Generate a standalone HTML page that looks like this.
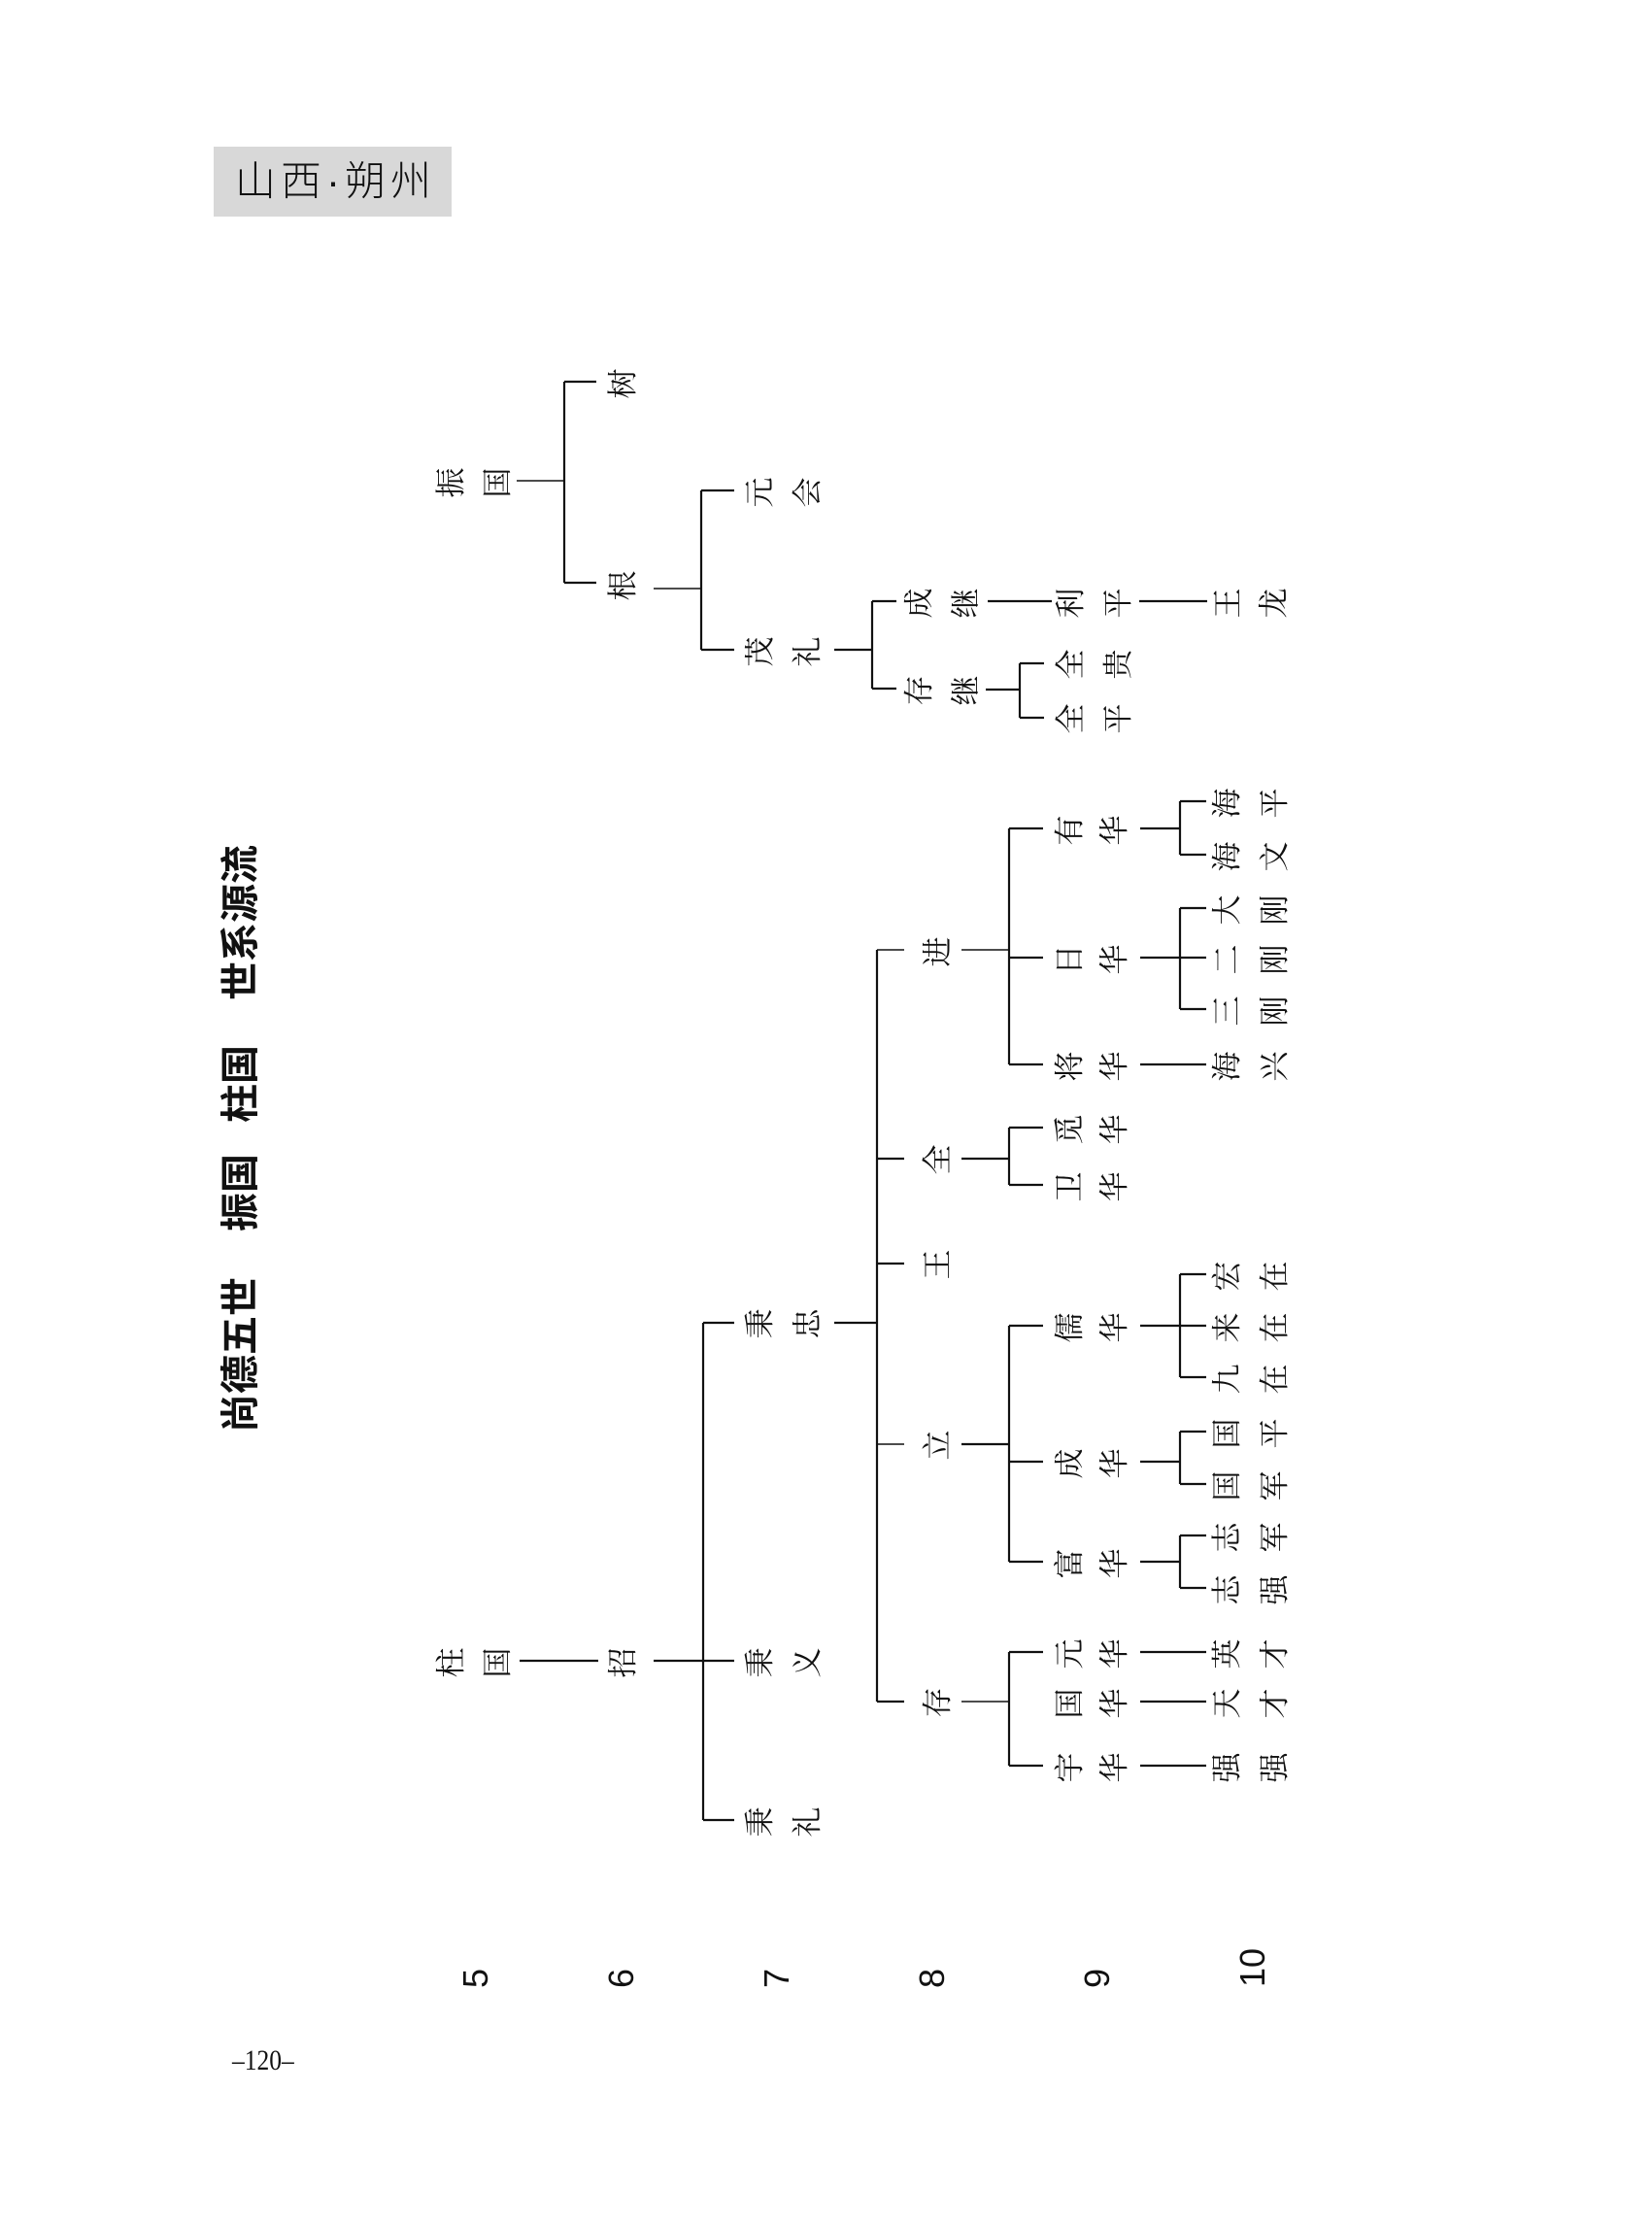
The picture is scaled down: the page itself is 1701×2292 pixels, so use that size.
<!DOCTYPE html>
<html><head><meta charset="utf-8">
<style>
html,body{margin:0;padding:0;background:#fff;}
#p{position:relative;width:1701px;height:2292px;overflow:hidden;background:#fff;}
.c{position:absolute;width:34px;height:34px;line-height:34px;margin-left:-17px;margin-top:-17px;text-align:center;font-size:31px;font-family:"Liberation Serif","Noto Serif CJK SC",serif;color:#111;transform:rotate(-90deg);}
.t{position:absolute;white-space:nowrap;font-family:"Liberation Sans","Noto Sans CJK SC",sans-serif;font-weight:bold;font-size:40px;color:#111;transform:translate(-50%,-50%) rotate(-90deg);line-height:40px;}
.n{position:absolute;font-family:"Liberation Sans",sans-serif;font-size:36px;color:#111;transform:translate(-50%,-50%) rotate(-90deg);line-height:36px;}
svg{position:absolute;left:0;top:0;}
</style></head><body><div id="p">
<div style="position:absolute;left:220px;top:151px;width:245px;height:72px;background:#d8d8d8;"></div>
<div style="position:absolute;left:242px;top:162px;width:215px;height:50px;line-height:50px;font-size:42px;letter-spacing:5px;font-family:'Liberation Sans','Noto Sans CJK SC',sans-serif;font-weight:300;color:#111;white-space:nowrap;">山西·朔州</div>

<div class="t" style="left:248px;top:1395px;">尚德五世</div>
<div class="t" style="left:248px;top:1228px;">振国</div>
<div class="t" style="left:248px;top:1116px;">柱国</div>
<div class="t" style="left:248px;top:950px;">世系源流</div>

<svg width="1701" height="2292" stroke="#111" stroke-width="2.2" fill="none">
<g stroke-width="1.4">
<line x1="532" y1="495" x2="581" y2="495"/>
<line x1="673" y1="606" x2="722" y2="606"/>
<line x1="990" y1="978" x2="1039" y2="978"/>
<line x1="990" y1="1752" x2="1039" y2="1752"/>
<line x1="903" y1="1487" x2="931" y2="1487"/>
<line x1="903" y1="978" x2="931" y2="978"/>
</g>
<line x1="581" y1="393" x2="581" y2="600"/>
<line x1="581" y1="393" x2="614" y2="393"/><line x1="581" y1="600" x2="614" y2="600"/>
<line x1="722" y1="505" x2="722" y2="669"/>
<line x1="722" y1="505" x2="756" y2="505"/><line x1="722" y1="669" x2="756" y2="669"/>
<line x1="859" y1="669" x2="898" y2="669"/>
<line x1="898" y1="619" x2="898" y2="709"/>
<line x1="898" y1="619" x2="923" y2="619"/><line x1="898" y1="709" x2="923" y2="709"/>
<line x1="1017" y1="619" x2="1083" y2="619"/>
<line x1="1173" y1="619" x2="1243" y2="619"/>
<line x1="1015" y1="710" x2="1050" y2="710"/>
<line x1="1050" y1="683" x2="1050" y2="739"/>
<line x1="1050" y1="683" x2="1075" y2="683"/><line x1="1050" y1="739" x2="1075" y2="739"/>

<line x1="535" y1="1710" x2="616" y2="1710"/>
<line x1="673" y1="1710" x2="756" y2="1710"/>
<line x1="724" y1="1362" x2="724" y2="1874"/>
<line x1="724" y1="1362" x2="756" y2="1362"/><line x1="724" y1="1874" x2="756" y2="1874"/>
<line x1="859" y1="1362" x2="903" y2="1362"/>
<line x1="903" y1="978" x2="903" y2="1752"/>
<line x1="903" y1="1193" x2="931" y2="1193"/>
<line x1="903" y1="1301" x2="931" y2="1301"/>
<line x1="903" y1="1752" x2="931" y2="1752"/>
<line x1="990" y1="1193" x2="1039" y2="1193"/>
<line x1="990" y1="1487" x2="1039" y2="1487"/>

<line x1="1039" y1="853" x2="1039" y2="1096"/>
<line x1="1039" y1="853" x2="1074" y2="853"/><line x1="1039" y1="986" x2="1074" y2="986"/><line x1="1039" y1="1096" x2="1074" y2="1096"/>
<line x1="1039" y1="1161" x2="1039" y2="1220"/>
<line x1="1039" y1="1161" x2="1074" y2="1161"/><line x1="1039" y1="1220" x2="1074" y2="1220"/>
<line x1="1039" y1="1365" x2="1039" y2="1608"/>
<line x1="1039" y1="1365" x2="1074" y2="1365"/><line x1="1039" y1="1505" x2="1074" y2="1505"/><line x1="1039" y1="1608" x2="1074" y2="1608"/>
<line x1="1039" y1="1701" x2="1039" y2="1818"/>
<line x1="1039" y1="1701" x2="1074" y2="1701"/><line x1="1039" y1="1818" x2="1074" y2="1818"/>

<line x1="1174" y1="853" x2="1215" y2="853"/>
<line x1="1215" y1="825" x2="1215" y2="880"/>
<line x1="1215" y1="825" x2="1242" y2="825"/><line x1="1215" y1="880" x2="1242" y2="880"/>
<line x1="1174" y1="986" x2="1215" y2="986"/>
<line x1="1215" y1="935" x2="1215" y2="1039"/>
<line x1="1215" y1="935" x2="1242" y2="935"/><line x1="1215" y1="986" x2="1242" y2="986"/><line x1="1215" y1="1039" x2="1242" y2="1039"/>
<line x1="1174" y1="1096" x2="1242" y2="1096"/>
<line x1="1174" y1="1365" x2="1215" y2="1365"/>
<line x1="1215" y1="1312" x2="1215" y2="1418"/>
<line x1="1215" y1="1312" x2="1242" y2="1312"/><line x1="1215" y1="1365" x2="1242" y2="1365"/><line x1="1215" y1="1418" x2="1242" y2="1418"/>
<line x1="1174" y1="1505" x2="1215" y2="1505"/>
<line x1="1215" y1="1474" x2="1215" y2="1528"/>
<line x1="1215" y1="1474" x2="1242" y2="1474"/><line x1="1215" y1="1528" x2="1242" y2="1528"/>
<line x1="1174" y1="1608" x2="1215" y2="1608"/>
<line x1="1215" y1="1581" x2="1215" y2="1635"/>
<line x1="1215" y1="1581" x2="1242" y2="1581"/><line x1="1215" y1="1635" x2="1242" y2="1635"/>
<line x1="1174" y1="1701" x2="1242" y2="1701"/>
<line x1="1174" y1="1752" x2="1242" y2="1752"/>
<line x1="1174" y1="1818" x2="1242" y2="1818"/>
</svg>

<!-- top tree -->
<div class="c" style="left:465px;top:497px">振</div><div class="c" style="left:513px;top:497px">国</div>
<div class="c" style="left:642px;top:395px">树</div>
<div class="c" style="left:642px;top:603px">根</div>
<div class="c" style="left:783px;top:507px">元</div><div class="c" style="left:832px;top:507px">会</div>
<div class="c" style="left:783px;top:671px">茂</div><div class="c" style="left:832px;top:671px">礼</div>
<div class="c" style="left:947px;top:621px">成</div><div class="c" style="left:995px;top:621px">继</div>
<div class="c" style="left:947px;top:711px">存</div><div class="c" style="left:995px;top:711px">继</div>
<div class="c" style="left:1103px;top:621px">利</div><div class="c" style="left:1152px;top:621px">平</div>
<div class="c" style="left:1265px;top:621px">王</div><div class="c" style="left:1312px;top:621px">龙</div>
<div class="c" style="left:1103px;top:684px">全</div><div class="c" style="left:1152px;top:684px">贵</div>
<div class="c" style="left:1103px;top:740px">全</div><div class="c" style="left:1152px;top:740px">平</div>

<!-- lower tree -->
<div class="c" style="left:465px;top:1712px">柱</div><div class="c" style="left:513px;top:1712px">国</div>
<div class="c" style="left:642px;top:1712px">招</div>
<div class="c" style="left:783px;top:1363px">秉</div><div class="c" style="left:832px;top:1363px">忠</div>
<div class="c" style="left:783px;top:1712px">秉</div><div class="c" style="left:832px;top:1712px">义</div>
<div class="c" style="left:783px;top:1876px">秉</div><div class="c" style="left:832px;top:1876px">礼</div>

<div class="c" style="left:966px;top:980px">进</div>
<div class="c" style="left:966px;top:1194px">全</div>
<div class="c" style="left:966px;top:1302px">王</div>
<div class="c" style="left:966px;top:1488px">立</div>
<div class="c" style="left:966px;top:1753px">存</div>

<div class="c" style="left:1102px;top:855px">有</div><div class="c" style="left:1148px;top:855px">华</div>
<div class="c" style="left:1102px;top:988px">日</div><div class="c" style="left:1148px;top:988px">华</div>
<div class="c" style="left:1102px;top:1098px">将</div><div class="c" style="left:1148px;top:1098px">华</div>
<div class="c" style="left:1102px;top:1163px">觅</div><div class="c" style="left:1148px;top:1163px">华</div>
<div class="c" style="left:1102px;top:1222px">卫</div><div class="c" style="left:1148px;top:1222px">华</div>
<div class="c" style="left:1102px;top:1367px">儒</div><div class="c" style="left:1148px;top:1367px">华</div>
<div class="c" style="left:1102px;top:1507px">成</div><div class="c" style="left:1148px;top:1507px">华</div>
<div class="c" style="left:1102px;top:1610px">富</div><div class="c" style="left:1148px;top:1610px">华</div>
<div class="c" style="left:1102px;top:1703px">元</div><div class="c" style="left:1148px;top:1703px">华</div>
<div class="c" style="left:1102px;top:1754px">国</div><div class="c" style="left:1148px;top:1754px">华</div>
<div class="c" style="left:1102px;top:1820px">宇</div><div class="c" style="left:1148px;top:1820px">华</div>

<div class="c" style="left:1264px;top:827px">海</div><div class="c" style="left:1313px;top:827px">平</div>
<div class="c" style="left:1264px;top:882px">海</div><div class="c" style="left:1313px;top:882px">文</div>
<div class="c" style="left:1264px;top:937px">大</div><div class="c" style="left:1313px;top:937px">刚</div>
<div class="c" style="left:1264px;top:988px">二</div><div class="c" style="left:1313px;top:988px">刚</div>
<div class="c" style="left:1264px;top:1041px">三</div><div class="c" style="left:1313px;top:1041px">刚</div>
<div class="c" style="left:1264px;top:1098px">海</div><div class="c" style="left:1313px;top:1098px">兴</div>
<div class="c" style="left:1264px;top:1314px">宏</div><div class="c" style="left:1313px;top:1314px">在</div>
<div class="c" style="left:1264px;top:1367px">来</div><div class="c" style="left:1313px;top:1367px">在</div>
<div class="c" style="left:1264px;top:1420px">九</div><div class="c" style="left:1313px;top:1420px">在</div>
<div class="c" style="left:1264px;top:1476px">国</div><div class="c" style="left:1313px;top:1476px">平</div>
<div class="c" style="left:1264px;top:1530px">国</div><div class="c" style="left:1313px;top:1530px">军</div>
<div class="c" style="left:1264px;top:1583px">志</div><div class="c" style="left:1313px;top:1583px">军</div>
<div class="c" style="left:1264px;top:1637px">志</div><div class="c" style="left:1313px;top:1637px">强</div>
<div class="c" style="left:1264px;top:1703px">英</div><div class="c" style="left:1313px;top:1703px">才</div>
<div class="c" style="left:1264px;top:1754px">天</div><div class="c" style="left:1313px;top:1754px">才</div>
<div class="c" style="left:1264px;top:1820px">强</div><div class="c" style="left:1313px;top:1820px">强</div>

<div class="n" style="left:490px;top:2037px">5</div>
<div class="n" style="left:640px;top:2037px">6</div>
<div class="n" style="left:800px;top:2037px">7</div>
<div class="n" style="left:960px;top:2037px">8</div>
<div class="n" style="left:1130px;top:2037px">9</div>
<div class="n" style="left:1290px;top:2026px">10</div>

<div style="position:absolute;left:239px;top:2106px;font-family:'Liberation Serif',serif;font-size:30px;line-height:32px;color:#111;transform:scaleX(0.85);transform-origin:left top;">–120–</div>
</div></body></html>
